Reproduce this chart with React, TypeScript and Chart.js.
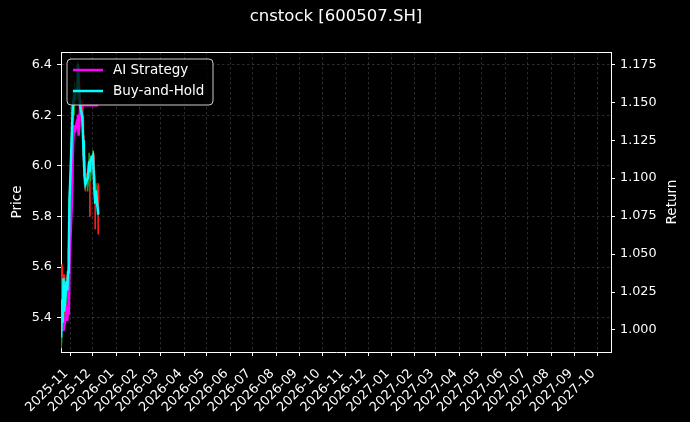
import React, { useEffect, useRef } from 'react';
import { Chart, registerables } from 'chart.js';

Chart.register(...registerables);

// ---------- data ----------
const dates = [
  '2025-10-20', '2025-10-21', '2025-10-22', '2025-10-23', '2025-10-24',
  '2025-10-27', '2025-10-28', '2025-10-29', '2025-10-30', '2025-10-31',
  '2025-11-03', '2025-11-04', '2025-11-05', '2025-11-06', '2025-11-07',
  '2025-11-10', '2025-11-11', '2025-11-12', '2025-11-13', '2025-11-14',
  '2025-11-17', '2025-11-18', '2025-11-19', '2025-11-20', '2025-11-21',
  '2025-11-24', '2025-11-25', '2025-11-26', '2025-11-27', '2025-11-28',
  '2025-12-01', '2025-12-02', '2025-12-03', '2025-12-04', '2025-12-05',
  '2025-12-08',
];

const openPrice = [
  5.30, 5.60, 5.46, 5.38, 5.56, 5.42, 5.55, 5.50, 5.58, 5.68,
  5.90, 6.24, 6.20, 6.26, 6.26, 6.29, 6.30, 6.38, 6.33, 6.27,
  6.24, 6.18, 6.10, 6.02, 5.97, 5.92, 5.95, 5.98, 6.02, 5.96,
  6.03, 6.04, 5.96, 5.90, 5.86, 5.92,
];
const highPrice = [
  5.34, 5.61, 5.48, 5.57, 5.57, 5.56, 5.57, 5.60, 5.70, 5.90,
  6.15, 6.26, 6.30, 6.30, 6.33, 6.34, 6.41, 6.39, 6.36, 6.29,
  6.26, 6.20, 6.12, 6.04, 5.99, 5.97, 6.00, 6.05, 6.03, 6.04,
  6.06, 6.05, 5.98, 5.92, 5.93, 5.93,
];
const lowPrice = [
  5.28, 5.45, 5.36, 5.37, 5.40, 5.41, 5.48, 5.49, 5.56, 5.66,
  5.88, 5.93, 6.18, 6.20, 6.24, 6.26, 6.28, 6.30, 6.26, 6.22,
  6.16, 6.04, 5.96, 5.93, 5.90, 5.90, 5.93, 5.96, 5.80, 5.94,
  5.98, 5.95, 5.88, 5.75, 5.84, 5.73,
];
const closePrice = [
  5.32, 5.47, 5.38, 5.55, 5.42, 5.54, 5.51, 5.58, 5.67, 5.87,
  6.12, 6.21, 6.25, 6.27, 6.29, 6.30, 6.40, 6.33, 6.28, 6.24,
  6.19, 6.10, 6.02, 5.96, 5.93, 5.95, 5.98, 6.02, 5.97, 6.02,
  6.04, 5.97, 5.90, 5.85, 5.90, 5.81,
];

const aiStrategy = [
  1.000, 1.000, 1.000, 1.000, 1.003, 1.012, 1.006, 1.015, 1.010, 1.045,
  1.083, 1.110, 1.125, 1.135, 1.130, 1.138, 1.142, 1.128, 1.135, 1.148,
  1.148, 1.148, 1.148, 1.148, 1.148, 1.148, 1.148, 1.148, 1.148, 1.148,
  1.148, 1.148, 1.148, 1.148, 1.148, 1.148,
];
const buyAndHold = [
  0.995, 1.020, 1.005, 1.034, 1.012, 1.032, 1.026, 1.038, 1.053, 1.086,
  1.128, 1.144, 1.150, 1.153, 1.157, 1.159, 1.175, 1.163, 1.155, 1.148,
  1.140, 1.125, 1.112, 1.101, 1.096, 1.100, 1.105, 1.111, 1.104, 1.112,
  1.115, 1.104, 1.092, 1.084, 1.092, 1.076,
];

const monthTicks = [
  '2025-11', '2025-12', '2026-01', '2026-02', '2026-03', '2026-04',
  '2026-05', '2026-06', '2026-07', '2026-08', '2026-09', '2026-10',
  '2026-11', '2026-12', '2027-01', '2027-02', '2027-03', '2027-04',
  '2027-05', '2027-06', '2027-07', '2027-08', '2027-09', '2027-10',
];
const priceTicks = [5.4, 5.6, 5.8, 6.0, 6.2, 6.4];
const returnTicks = [1.0, 1.025, 1.05, 1.075, 1.1, 1.125, 1.15, 1.175];

const xAxisStart = '2025-10-19';
const xAxisEnd = '2027-10-19';
const priceRange = [5.264, 6.45];
const returnRange = [0.9855, 1.1831];

const titleText = 'cnstock [600507.SH]';
const legendLabels = ['AI Strategy', 'Buy-and-Hold'];
const legendColors = ['#ff00ff', '#00ffff'];

// ---------- helpers ----------
const dayNum = (s: string) => {
  const [y, m, d] = s.split('-').map(Number);
  return Date.UTC(y, m - 1, d || 1) / 86400000;
};

const FONT = '"DejaVu Sans", Verdana, sans-serif';
const UP = '#1f9a1f';
const DOWN = '#ff1a1a';
const GRID = 'rgba(255,255,255,0.22)';

const decorPlugin = {
  id: 'decor',
  beforeDraw(chart: any) {
    const { ctx, width, height } = chart;
    ctx.save();
    ctx.fillStyle = '#000';
    ctx.fillRect(0, 0, width, height);
    ctx.restore();
  },
  afterDraw(chart: any) {
    const { ctx, chartArea } = chart;
    const { left, right, top, bottom } = chartArea;
    ctx.save();
    // top spine
    ctx.strokeStyle = '#fff';
    ctx.lineWidth = 1;
    ctx.beginPath();
    ctx.moveTo(left, top + 0.5);
    ctx.lineTo(right, top + 0.5);
    ctx.stroke();

    // title
    ctx.fillStyle = '#fff';
    ctx.font = `16.5px ${FONT}`;
    ctx.textAlign = 'center';
    ctx.textBaseline = 'middle';
    ctx.fillText(titleText, (left + right) / 2, 17);

    // axis titles
    ctx.font = `13.5px ${FONT}`;
    const midY = (top + bottom) / 2;
    ctx.save();
    ctx.translate(17, midY);
    ctx.rotate(-Math.PI / 2);
    ctx.fillText('Price', 0, 0);
    ctx.restore();
    ctx.save();
    ctx.translate(672.5, midY);
    ctx.rotate(-Math.PI / 2);
    ctx.fillText('Return', 0, 0);
    ctx.restore();

    // legend
    const bx = left + 6, by = top + 7, bw = 146, bh = 46, r = 4;
    ctx.beginPath();
    ctx.moveTo(bx + r, by);
    ctx.lineTo(bx + bw - r, by);
    ctx.quadraticCurveTo(bx + bw, by, bx + bw, by + r);
    ctx.lineTo(bx + bw, by + bh - r);
    ctx.quadraticCurveTo(bx + bw, by + bh, bx + bw - r, by + bh);
    ctx.lineTo(bx + r, by + bh);
    ctx.quadraticCurveTo(bx, by + bh, bx, by + bh - r);
    ctx.lineTo(bx, by + r);
    ctx.quadraticCurveTo(bx, by, bx + r, by);
    ctx.closePath();
    ctx.fillStyle = 'rgba(0,0,0,0.8)';
    ctx.fill();
    ctx.strokeStyle = '#cccccc';
    ctx.lineWidth = 1;
    ctx.stroke();

    ctx.font = `13.5px ${FONT}`;
    ctx.textAlign = 'left';
    ctx.textBaseline = 'middle';
    legendLabels.forEach((lab, i) => {
      const yy = by + 11 + i * 21;
      ctx.strokeStyle = legendColors[i];
      ctx.lineWidth = 2.5;
      ctx.beginPath();
      ctx.moveTo(bx + 6, yy);
      ctx.lineTo(bx + 36, yy);
      ctx.stroke();
      ctx.fillStyle = '#fff';
      ctx.fillText(lab, bx + 46, yy + 0.5);
    });
    ctx.restore();
  },
};

export default function App() {
  const canvasRef = useRef<HTMLCanvasElement | null>(null);

  useEffect(() => {
    document.body.style.margin = '0';
    document.body.style.background = '#000';
    const canvas = canvasRef.current;
    if (!canvas) return;

    const xs = dates.map(dayNum);
    const candleColors = dates.map((_, i) => (closePrice[i] >= openPrice[i] ? UP : DOWN));

    const yTickFont = { family: FONT, size: 12.8 };
    const xTickFont = { family: FONT, size: 13 };

    const chart = new Chart(canvas, {
      type: 'line',
      data: {
        datasets: [
          {
            type: 'bar',
            label: 'wick',
            data: xs.map((x, i) => ({ x, y: [lowPrice[i], highPrice[i]] })) as any,
            yAxisID: 'y',
            xAxisID: 'x',
            backgroundColor: candleColors,
            borderWidth: 0,
            barThickness: 1,
            grouped: false,
            order: 3,
          } as any,
          {
            type: 'bar',
            label: 'body',
            data: xs.map((x, i) => ({
              x,
              y: [Math.min(openPrice[i], closePrice[i]), Math.max(openPrice[i], closePrice[i])],
            })) as any,
            yAxisID: 'y',
            xAxisID: 'x',
            backgroundColor: candleColors,
            borderWidth: 0,
            barThickness: 1.6,
            grouped: false,
            order: 2,
          } as any,
          {
            type: 'line',
            label: legendLabels[0],
            data: xs.map((x, i) => ({ x, y: aiStrategy[i] })),
            yAxisID: 'y1',
            xAxisID: 'x',
            borderColor: legendColors[0],
            borderWidth: 2.5,
            pointRadius: 0,
            tension: 0,
            order: 1,
          },
          {
            type: 'line',
            label: legendLabels[1],
            data: xs.map((x, i) => ({ x, y: buyAndHold[i] })),
            yAxisID: 'y1',
            xAxisID: 'x',
            borderColor: legendColors[1],
            borderWidth: 2.5,
            pointRadius: 0,
            tension: 0,
            order: 0,
          },
        ],
      },
      options: {
        responsive: false,
        animation: false,
        events: [],
        layout: { padding: { top: 52, left: 0, right: 0, bottom: 0 } },
        plugins: {
          legend: { display: false },
          title: { display: false },
          tooltip: { enabled: false },
        },
        scales: {
          x: {
            type: 'linear',
            position: 'bottom',
            bounds: 'data',
            offset: false,
            min: dayNum(xAxisStart) + 0.66,
            max: dayNum(xAxisEnd) + 0.2,
            afterBuildTicks: (scale: any) => {
              scale.ticks = monthTicks.map((m) => ({ value: dayNum(m + '-01') }));
            },
            afterFit: (scale: any) => {
              scale.height = 70;
            },
            ticks: {
              autoSkip: false,
              maxRotation: 45,
              minRotation: 45,
              color: '#fff',
              font: xTickFont,
              padding: 10,
              labelOffset: -4,
              callback: (_v: any, i: number) => monthTicks[i],
            },
            grid: {
              offset: false,
              color: GRID,
              lineWidth: 0.8,
              tickColor: '#fff',
              tickLength: 4,
              tickWidth: 1,
            },
            border: { display: true, color: '#fff', width: 1, dash: [2.5, 2.5] },
          } as any,
          y: {
            type: 'linear',
            position: 'left',
            bounds: 'data',
            min: priceRange[0],
            max: priceRange[1],
            afterBuildTicks: (scale: any) => {
              scale.ticks = priceTicks.map((v) => ({ value: v }));
            },
            afterFit: (scale: any) => {
              scale.width = 61;
            },
            ticks: {
              color: '#fff',
              font: yTickFont,
              padding: 5,
              callback: (v: any) => Number(v).toFixed(1),
            },
            grid: {
              color: GRID,
              lineWidth: 0.8,
              tickColor: '#fff',
              tickLength: 4,
              tickWidth: 1,
            },
            border: { display: true, color: '#fff', width: 1, dash: [2.5, 2.5] },
          } as any,
          y1: {
            type: 'linear',
            position: 'right',
            bounds: 'data',
            min: returnRange[0],
            max: returnRange[1],
            afterBuildTicks: (scale: any) => {
              scale.ticks = returnTicks.map((v) => ({ value: v }));
            },
            afterFit: (scale: any) => {
              scale.width = 79;
            },
            ticks: {
              color: '#fff',
              font: yTickFont,
              padding: 5,
              callback: (v: any) => Number(v).toFixed(3),
            },
            grid: {
              drawOnChartArea: false,
              tickColor: '#fff',
              tickLength: 4,
              tickWidth: 1,
            },
            border: { display: true, color: '#fff', width: 1 },
          } as any,
        },
      },
      plugins: [decorPlugin],
    } as any);

    return () => {
      chart.destroy();
    };
  }, []);

  return (
    <div style={{ position: 'absolute', left: 0, top: 0, width: 690, height: 422, background: '#000' }}>
      <canvas ref={canvasRef} width={690} height={422} style={{ width: 690, height: 422, display: 'block' }} />
    </div>
  );
}
